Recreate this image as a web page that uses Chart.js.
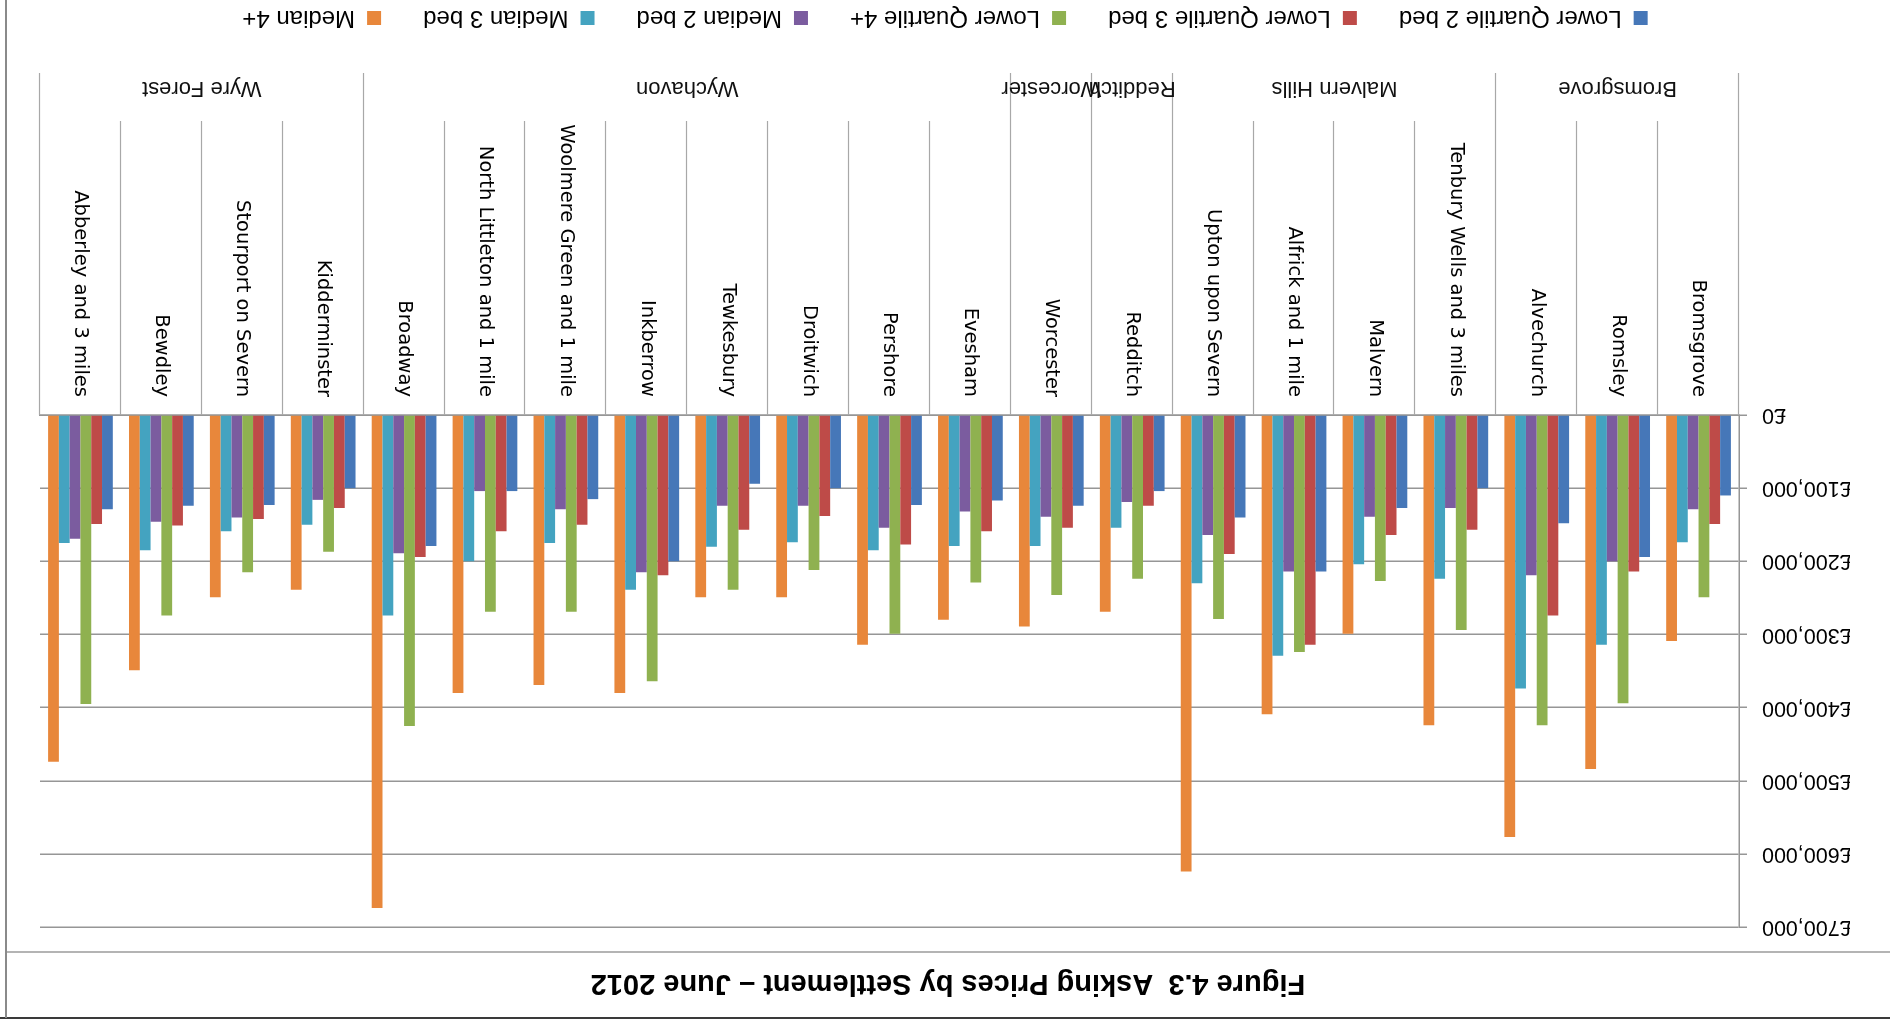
<!DOCTYPE html>
<html>
<head>
<meta charset="utf-8">
<title>Asking Prices by Settlement</title>
<script src="https://cdn.jsdelivr.net/npm/chart.js@4/dist/chart.umd.min.js"></script>
<style>
  html, body { margin: 0; padding: 0; background: #fff; }
  #page {
    position: relative; width: 1890px; height: 1025px; overflow: hidden;
    background: #fff; transform: rotate(180deg); transform-origin: 50% 50%;
  }
  #rule-top { position: absolute; left: 0; top: 6px; width: 1890px; height: 0; border-top: 2px solid #3a3a3a; }
  #rule-mid { position: absolute; left: 0; top: 72px; width: 1884px; height: 0; border-top: 2px solid #b4b4b4; }
  #rule-side { position: absolute; left: 1883px; top: 7px; width: 0; height: 1018px; border-left: 2px solid #8a8a8a; }
  #title {
    position: absolute; left: 0; top: 8px; width: 1884px; height: 64px;
    display: flex; align-items: center; justify-content: center;
    font: bold 29px "Liberation Sans", Arial, sans-serif; color: #000;
  }
  #chart { position: absolute; left: 0; top: 70px; }
</style>
</head>
<body>
<div id="page">
  <div id="rule-top"></div>
  <div id="title">Figure 4.3&nbsp; Asking Prices by Settlement &ndash; June 2012</div>
  <canvas id="chart" width="1883" height="959"></canvas>
  <div id="rule-mid"></div>
  <div id="rule-side"></div>
</div>
<script>
// Settlements, grouped by district
const settlements = [
  'Bromsgrove', 'Romsley', 'Alvechurch',
  'Tenbury Wells and 3 miles', 'Malvern', 'Alfrick and 1 mile', 'Upton upon Severn',
  'Redditch',
  'Worcester',
  'Evesham', 'Pershore', 'Droitwich', 'Tewkesbury', 'Inkberrow',
  'Woolmere Green and 1 mile', 'North Littleton and 1 mile', 'Broadway',
  'Kidderminster', 'Stourport on Severn', 'Bewdley', 'Abberley and 3 miles'
];
const districts = ['Bromsgrove', 'Malvern Hills', 'Redditch', 'Worcester', 'Wychavon', 'Wyre Forest'];
const districtSizes = [3, 4, 1, 1, 8, 4];

// Asking prices (£)
const lowerQuartile2Bed = [110000, 194000, 148000, 100000, 127000, 214000, 140000, 104000, 124000, 117000, 123000, 100000, 94000, 200000, 115000, 104000, 179000, 100000, 123000, 124000, 129000];
const lowerQuartile3Bed = [149000, 214000, 274000, 157000, 164000, 314000, 190000, 124000, 154000, 159000, 177000, 138000, 157000, 219000, 150000, 159000, 194000, 127000, 142000, 151000, 149000];
const lowerQuartile4Plus = [249000, 394000, 424000, 294000, 227000, 324000, 279000, 224000, 246000, 229000, 299000, 212000, 239000, 364000, 269000, 269000, 425000, 187000, 215000, 274000, 395000];
const median2Bed = [129000, 200000, 219000, 127000, 139000, 214000, 164000, 119000, 139000, 132000, 154000, 124000, 124000, 215000, 129000, 104000, 189000, 116000, 140000, 146000, 169000];
const median3Bed = [174000, 314000, 374000, 224000, 204000, 329000, 230000, 154000, 179000, 179000, 185000, 174000, 180000, 239000, 175000, 200000, 274000, 150000, 159000, 185000, 175000];
const median4Plus = [309000, 484000, 577000, 424000, 299000, 409000, 624000, 269000, 289000, 280000, 314000, 249000, 249000, 380000, 369000, 380000, 674000, 239000, 249000, 349000, 474000];

const yTicks = [0, 100000, 200000, 300000, 400000, 500000, 600000, 700000];

const seriesNames = ['Lower Quartile 2 bed', 'Lower Quartile 3 bed', 'Lower Quartile 4+', 'Median 2 bed', 'Median 3 bed', 'Median 4+'];
const seriesData = [lowerQuartile2Bed, lowerQuartile3Bed, lowerQuartile4Plus, median2Bed, median3Bed, median4Plus];
const seriesColours = ['#4677b8', '#be4b48', '#8fb150', '#7b5c9f', '#44a3c0', '#e8873b'];

const GRID = '#969696';
const SEP = '#a8a8a8';
const CAT_LINE_END = 834;   // bottom of the settlement label band
const GROUP_LINE_END = 882; // bottom of the district label band
const GROUP_LABEL_Y = 867;

// Draws the two-level category axis: settlement separators and district labels
const districtAxis = {
  id: 'districtAxis',
  afterDraw(chart) {
    const { ctx, chartArea, scales: { x } } = chart;
    const half = (x.getPixelForValue(1) - x.getPixelForValue(0)) / 2;
    const edge = i => x.getPixelForValue(i) - half;
    const groupEdges = [0];
    districtSizes.forEach(n => groupEdges.push(groupEdges[groupEdges.length - 1] + n));
    ctx.save();
    ctx.lineWidth = 1.2;
    ctx.strokeStyle = SEP;
    for (let i = 0; i <= settlements.length; i++) {
      const isGroup = groupEdges.includes(i);
      const px = Math.round(edge(i)) + 0.5;
      ctx.beginPath();
      ctx.moveTo(px, chartArea.bottom);
      ctx.lineTo(px, isGroup ? GROUP_LINE_END : CAT_LINE_END);
      ctx.stroke();
    }
    ctx.fillStyle = '#111';
    ctx.font = '22px "Liberation Sans", Arial, sans-serif';
    ctx.textAlign = 'center';
    ctx.textBaseline = 'middle';
    districts.forEach((name, g) => {
      const cx = (edge(groupEdges[g]) + edge(groupEdges[g + 1])) / 2;
      ctx.fillText(name, cx, GROUP_LABEL_Y);
    });
    ctx.restore();
  }
};

new Chart(document.getElementById('chart'), {
  type: 'bar',
  data: {
    labels: settlements,
    datasets: seriesNames.map((name, i) => ({
      label: name,
      data: seriesData[i],
      backgroundColor: seriesColours[i],
      borderWidth: 0,
      categoryPercentage: 0.8,
      barPercentage: 1.0
    }))
  },
  options: {
    responsive: false,
    animation: false,
    devicePixelRatio: 1,
    layout: { padding: { top: 0, right: 33, left: 40, bottom: 0 } },
    plugins: {
      tooltip: { enabled: false },
      legend: {
        position: 'bottom',
        labels: {
          boxWidth: 14, boxHeight: 14, padding: 42, color: '#000',
          font: { family: '"Liberation Sans", Arial, sans-serif', size: 24 }
        }
      }
    },
    scales: {
      x: {
        grid: { display: false, drawTicks: false },
        border: { display: true, color: GRID, width: 1.5 },
        ticks: {
          autoSkip: false, minRotation: 90, maxRotation: 90, padding: 18, color: '#000',
          font: { family: '"DejaVu Sans", Verdana, sans-serif', size: 19.5 }
        },
        afterFit(scale) { scale.height = 343; }
      },
      y: {
        min: 0, max: 700000,
        afterBuildTicks(scale) { scale.ticks = yTicks.map(v => ({ value: v })); },
        grid: { color: GRID, lineWidth: 1.5, tickLength: 8 },
        border: { display: true, color: GRID, width: 1.5 },
        ticks: {
          padding: 15, color: '#000',
          font: { family: '"Liberation Sans", Arial, sans-serif', size: 21.5 },
          callback: v => '£' + Number(v).toLocaleString('en-GB')
        },
        afterFit(scale) { scale.width = 111; }
      }
    }
  },
  plugins: [districtAxis]
});
</script>
</body>
</html>
